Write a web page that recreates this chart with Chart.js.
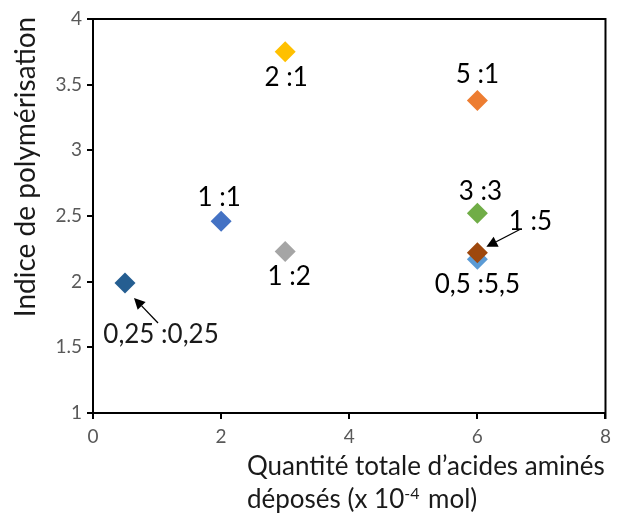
<!DOCTYPE html>
<html>
<head>
<meta charset="utf-8">
<script src="https://cdn.jsdelivr.net/npm/chart.js@4.4.0/dist/chart.umd.min.js"></script>
<style>
  html, body { margin: 0; padding: 0; background: #fff; }
  #wrap { width: 617px; height: 515px; }
</style>
</head>
<body>
<div id="wrap"><canvas id="scatterChart" width="617" height="515"></canvas></div>
<script>
// Ratios (labels) and measured values
const ratioLabels = ['0,25 :0,25', '1 :1', '1 :2', '2 :1', '5 :1', '3 :3', '0,5 :5,5', '1 :5'];
const totalAmount = [0.5, 2, 3, 3, 6, 6, 6, 6];
const polyIndex = [1.99, 2.46, 2.23, 3.75, 3.38, 2.52, 2.17, 2.22];
const pointColors = ['#255E91', '#4472C4', '#A5A5A5', '#FFC000', '#ED7D31', '#70AD47', '#5B9BD5', '#9E480E'];

const xTitleLines = ['Quantité totale d\u2019acides aminés', 'déposés (x 10', '-4', ' mol)'];
const yTitle = 'Indice de polymérisation';

const FONT = 'Lato, "Open Sans", sans-serif';

// label placement around each point (dx, dy in px) and optional arrows
const labelOffsets = [[36, 52], [-2, -24], [4, 25], [1, 26], [0, -26], [3, -22], [0, 25], [53, -31]];
const arrows = { 0: [[33, 40], [9, 15]], 7: [[42, -23], [9, -6]] };

function drawArrow(ctx, x1, y1, x2, y2) {
    const ang = Math.atan2(y2 - y1, x2 - x1);
    const head = 11, wing = 5.5;
    const bx = x2 - head * Math.cos(ang), by = y2 - head * Math.sin(ang);
    ctx.beginPath();
    ctx.moveTo(x1, y1);
    ctx.lineTo(bx, by);
    ctx.strokeStyle = '#000';
    ctx.lineWidth = 1.3;
    ctx.stroke();
    ctx.beginPath();
    ctx.moveTo(x2, y2);
    ctx.lineTo(bx + wing * Math.sin(ang), by - wing * Math.cos(ang));
    ctx.lineTo(bx - wing * Math.sin(ang), by + wing * Math.cos(ang));
    ctx.closePath();
    ctx.fillStyle = '#000';
    ctx.fill();
}

const decorPlugin = {
    id: 'decor',
    beforeDatasetsDraw(chart) {
        // box around the plot area (top and right edges)
        const ctx = chart.ctx, a = chart.chartArea;
        ctx.save();
        ctx.strokeStyle = '#000';
        ctx.lineWidth = 2;
        ctx.beginPath();
        ctx.moveTo(a.left - 6, a.top);
        ctx.lineTo(a.right, a.top);
        ctx.lineTo(a.right, a.bottom + 6);
        ctx.stroke();
        ctx.restore();
    },
    afterDatasetsDraw(chart) {
        const ctx = chart.ctx;
        const meta = chart.getDatasetMeta(0);
        ctx.save();
        ctx.font = '26px ' + FONT;
        ctx.fillStyle = '#1a1a1a';
        ctx.textAlign = 'center';
        ctx.textBaseline = 'middle';
        meta.data.forEach((pt, i) => {
            const off = labelOffsets[i];
            ctx.fillText(ratioLabels[i], pt.x + off[0], pt.y + off[1]);
            if (arrows[i]) {
                const [p1, p2] = arrows[i];
                drawArrow(ctx, pt.x + p1[0], pt.y + p1[1], pt.x + p2[0], pt.y + p2[1]);
            }
        });

        // axis titles
        const a = chart.chartArea;
        ctx.textAlign = 'left';
        ctx.textBaseline = 'alphabetic';
        ctx.fillStyle = '#1a1a1a';
        const tx = 247;
        ctx.fillText(xTitleLines[0], tx, a.bottom + 62);
        let x = tx;
        ctx.fillText(xTitleLines[1], x, a.bottom + 95);
        x += ctx.measureText(xTitleLines[1]).width;
        ctx.font = '16px ' + FONT;
        ctx.fillText(xTitleLines[2], x, a.bottom + 86);
        x += ctx.measureText(xTitleLines[2]).width + 2;
        ctx.font = '26px ' + FONT;
        ctx.fillText(xTitleLines[3], x, a.bottom + 95);

        ctx.font = '28px ' + FONT;
        ctx.translate(35, 167);
        ctx.rotate(-Math.PI / 2);
        ctx.textAlign = 'center';
        ctx.fillText(yTitle, 0, 0);
        ctx.restore();
    }
};

const ctx = document.getElementById('scatterChart').getContext('2d');
new Chart(ctx, {
    type: 'scatter',
    data: {
        datasets: [{
            data: totalAmount.map((v, i) => ({ x: v, y: polyIndex[i] })),
            pointStyle: 'rectRot',
            pointRadius: 10.5,
            pointHoverRadius: 10.5,
            pointBackgroundColor: pointColors,
            pointBorderWidth: 0,
            pointBorderColor: pointColors
        }]
    },
    options: {
        responsive: false,
        animation: false,
        layout: { padding: { top: 19, right: 11, left: 0, bottom: 0 } },
        plugins: { legend: { display: false }, tooltip: { enabled: false } },
        scales: {
            x: {
                type: 'linear',
                min: 0, max: 8,
                ticks: { stepSize: 2, color: '#595959', font: { size: 19, family: FONT }, padding: 6 },
                grid: { drawOnChartArea: false, tickLength: 6, color: '#000', lineWidth: 2 },
                border: { color: '#000', width: 2 },
                afterFit(scale) { scale.height = 102; }
            },
            y: {
                min: 1, max: 4,
                ticks: {
                    stepSize: 0.5, color: '#595959', font: { size: 19, family: FONT }, padding: 5,
                    callback: v => String(v)
                },
                grid: { drawOnChartArea: false, tickLength: 6, color: '#000', lineWidth: 2 },
                border: { color: '#000', width: 2 },
                afterFit(scale) { scale.width = 93; }
            }
        }
    },
    plugins: [decorPlugin]
});
</script>
</body>
</html>
